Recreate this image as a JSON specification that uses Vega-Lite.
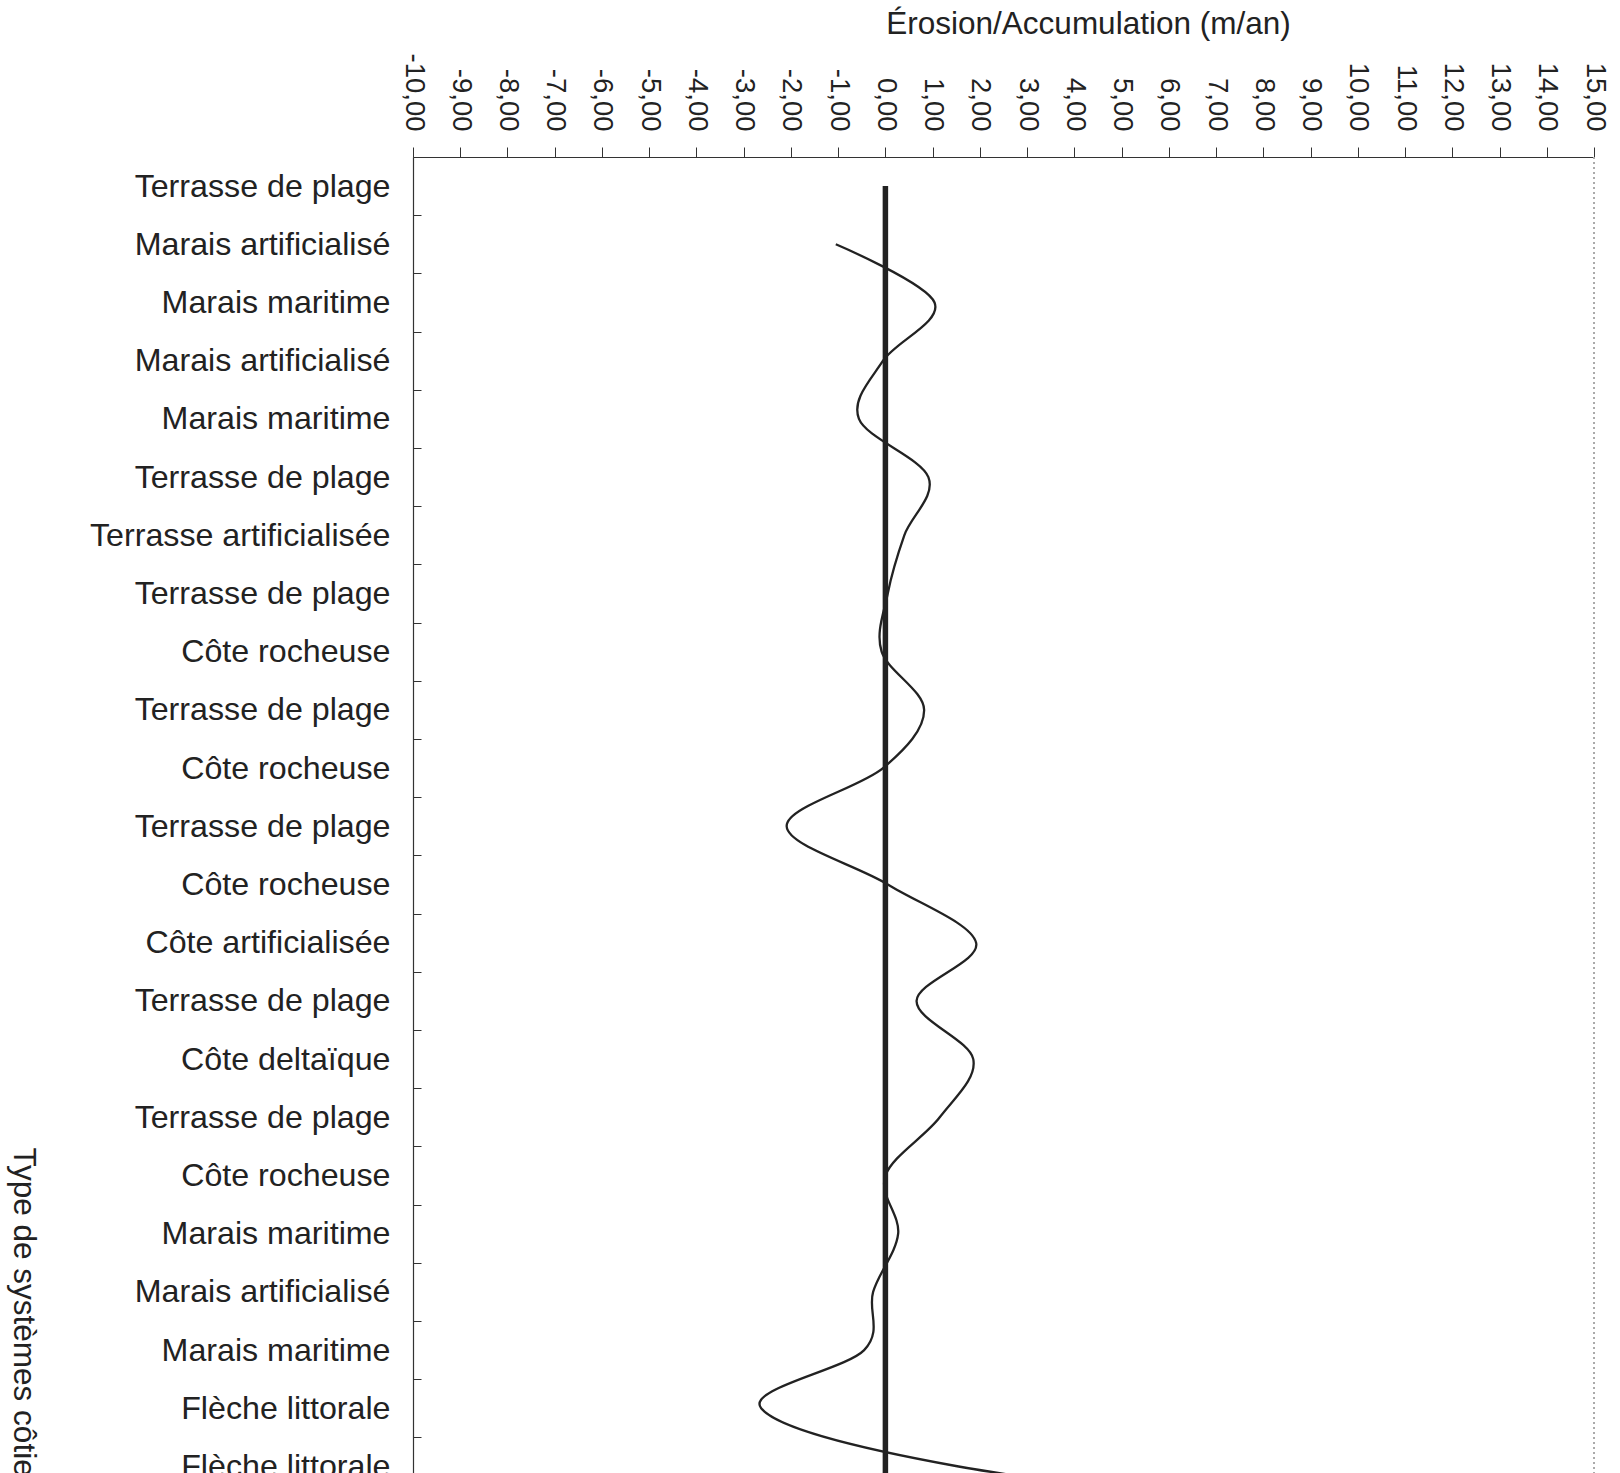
{
  "$schema": "https://vega.github.io/schema/vega-lite/v6.json",
  "autosize": {"type": "none"},
  "padding": {"left": 413, "top": 157, "right": 26, "bottom": 0},
  "width": 1181,
  "height": 1316,
  "background": "white",
  "config": {
    "view": {"stroke": null},
    "font": "Liberation Sans",
    "axis": {"grid": false, "domainColor": "#333", "tickColor": "#333", "labelColor": "#222", "titleColor": "#222", "titleFontWeight": "normal", "labelFont": "Liberation Sans", "titleFont": "Liberation Sans"}
  },
  "data": {
    "values": [
      {"id": 1, "key": "01|Terrasse de plage", "v": null},
      {"id": 2, "key": "02|Marais artificialisé", "v": -1.05},
      {"id": 3, "key": "03|Marais maritime", "v": 1.04},
      {"id": 4, "key": "04|Marais artificialisé", "v": -0.05},
      {"id": 5, "key": "05|Marais maritime", "v": -0.56},
      {"id": 6, "key": "06|Terrasse de plage", "v": 0.91},
      {"id": 7, "key": "07|Terrasse artificialisée", "v": 0.40},
      {"id": 8, "key": "08|Terrasse de plage", "v": 0.05},
      {"id": 9, "key": "09|Côte rocheuse", "v": -0.08},
      {"id": 10, "key": "10|Terrasse de plage", "v": 0.82},
      {"id": 11, "key": "11|Côte rocheuse", "v": -0.05},
      {"id": 12, "key": "12|Terrasse de plage", "v": -2.09},
      {"id": 13, "key": "13|Côte rocheuse", "v": 0.05},
      {"id": 14, "key": "14|Côte artificialisée", "v": 1.92},
      {"id": 15, "key": "15|Terrasse de plage", "v": 0.66},
      {"id": 16, "key": "16|Côte deltaïque", "v": 1.86},
      {"id": 17, "key": "17|Terrasse de plage", "v": 1.15},
      {"id": 18, "key": "18|Côte rocheuse", "v": 0.0},
      {"id": 19, "key": "19|Marais maritime", "v": 0.27},
      {"id": 20, "key": "20|Marais artificialisé", "v": -0.26},
      {"id": 21, "key": "21|Marais maritime", "v": -0.45},
      {"id": 22, "key": "22|Flèche littorale", "v": -2.63},
      {"id": 23, "key": "23|Flèche littorale", "v": 1.55},
      {"id": 24, "key": "24|Terrasse de plage", "v": 11.0}
    ]
  },
  "layer": [
    {
      "mark": {"type": "line", "interpolate": "cardinal", "color": "#222", "strokeWidth": 2.3},
      "encoding": {
        "x": {
          "field": "v",
          "type": "quantitative",
          "scale": {"domain": [-10, 15], "nice": false, "zero": false},
          "axis": {
            "orient": "top",
            "values": [-10, -9, -8, -7, -6, -5, -4, -3, -2, -1, 0, 1, 2, 3, 4, 5, 6, 7, 8, 9, 10, 11, 12, 13, 14, 15],
            "labelExpr": "(datum.value < 0 ? '-' : '') + abs(datum.value) + ',00'",
            "labelAngle": 90,
            "labelAlign": "right",
            "labelBaseline": "middle",
            "labelFontSize": 27.5,
            "labelPadding": 16,
            "labelFlush": false,
            "labelOverlap": false,
            "labelBound": false,
            "tickSize": 10,
            "tickWidth": 1,
            "domainWidth": 1.2,
            "title": "Érosion/Accumulation (m/an)",
            "titleFontSize": 31.5,
            "titleX": 675,
            "titleY": -124,
            "titleAlign": "center",
            "titleBaseline": "alphabetic"
          }
        },
        "y": {
          "field": "key",
          "type": "ordinal",
          "scale": {"type": "band", "range": [0, 1396.8], "paddingInner": 0, "paddingOuter": 0},
          "axis": {
            "labelExpr": "split(datum.label, '|')[1]",
            "labelFontSize": 32.2,
            "labelPadding": 31,
            "labelAlign": "right",
            "labelBaseline": "middle",
            "labelOverlap": false,
            "labelBound": false,
            "labelLimit": 0,
            "tickBand": "extent",
            "tickSize": -8,
            "tickWidth": 1,
            "domainWidth": 1.2,
            "title": "Type de systèmes côtiers",
            "titleFontSize": 31.5,
            "titleAngle": 90,
            "titleX": -391,
            "titleY": 990,
            "titleAlign": "left",
            "titleBaseline": "middle"
          }
        },
        "order": {"field": "id"}
      }
    },
    {
      "mark": {"type": "line", "color": "#222", "strokeWidth": 5.5, "strokeCap": "butt"},
      "encoding": {
        "x": {"datum": 0, "type": "quantitative"},
        "y": {"field": "key", "type": "ordinal"},
        "order": {"field": "id"}
      }
    },
    {
      "mark": {"type": "rule", "color": "#aaa", "strokeDash": [2, 3], "strokeWidth": 1},
      "encoding": {
        "x": {"datum": 15, "type": "quantitative"}
      }
    }
  ]
}
